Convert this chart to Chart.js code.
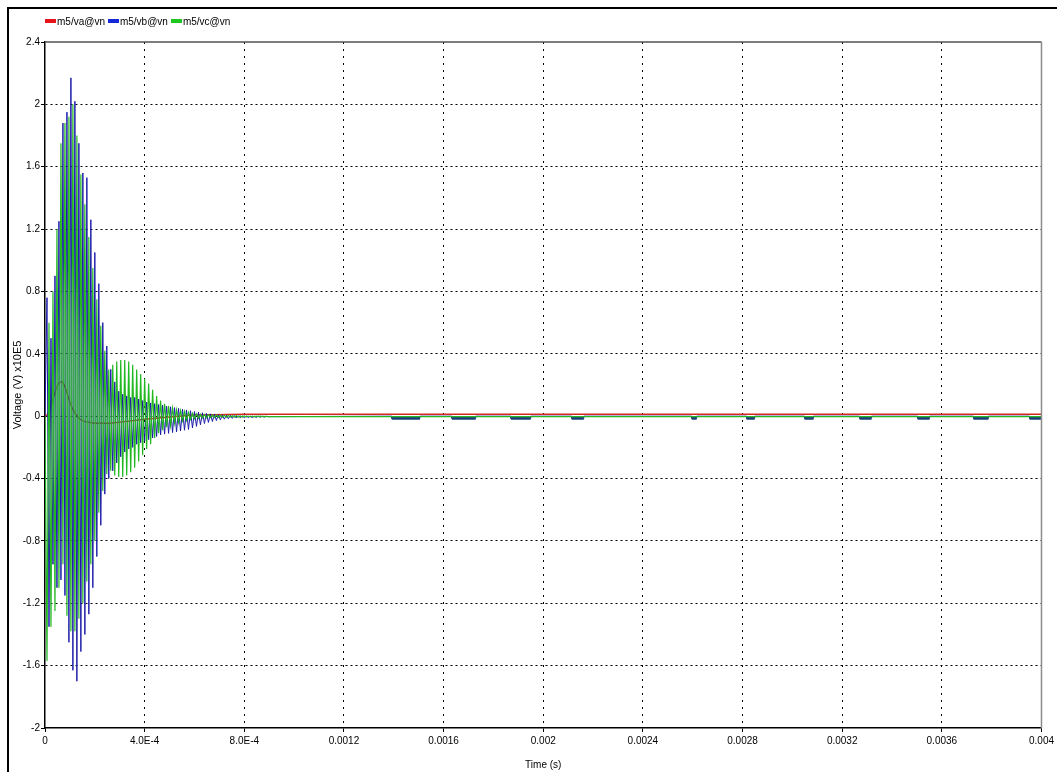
<!DOCTYPE html>
<html>
<head>
<meta charset="utf-8">
<script src="https://cdn.jsdelivr.net/npm/chart.js@4/dist/chart.umd.min.js"></script>
<style>
    body { margin: 0; background: #fff; }
    #wrap { position: relative; width: 1057px; height: 772px; }
    #legend {
        position: absolute; left: 45px; top: 16px;
        font: 10px 'Liberation Sans Narrow', 'Liberation Sans', Arial, sans-serif;
        color: #000; white-space: nowrap;
    }
    #legend span { margin-right: 3px; }
    #legend i { display: inline-block; width: 11px; height: 4px; margin-right: 1px; vertical-align: 2px; }
</style>
</head>
<body>
<div id="wrap">
    <canvas id="chart"></canvas>
    <div id="legend"></div>
</div>
<script>
const FONT = "'Liberation Sans Narrow', 'Liberation Sans', Arial, sans-serif";

const seriesNames = ['m5/va@vn', 'm5/vb@vn', 'm5/vc@vn'];
const lineColors = ['#d42a1e', '#1a1aa8', '#22b822'];
const keyColors = ['#e8141c', '#1428d8', '#1ec81e'];

const xTickValues = [0, 0.0004, 0.0008, 0.0012, 0.0016, 0.002, 0.0024, 0.0028, 0.0032, 0.0036, 0.004];
const xTickLabels = ['0', '4.0E-4', '8.0E-4', '0.0012', '0.0016', '0.002', '0.0024', '0.0028', '0.0032', '0.0036', '0.004'];
const yTickValues = [-2, -1.6, -1.2, -0.8, -0.4, 0, 0.4, 0.8, 1.2, 1.6, 2, 2.4];
const yTickLabels = ['-2', '-1.6', '-1.2', '-0.8', '-0.4', '0', '0.4', '0.8', '1.2', '1.6', '2', '2.4'];

// burst samples, one every 8 us (peak / trough pairs), x10E5 V
const burstStep = 8e-6;
const vbBurst = [
    0, 0.76, -1.35, 0.5, -0.95, 0.9, -1.1, 1.25, -1.05, 1.88,
    -1.15, 1.95, -1.45, 2.17, -1.63, 2.02, -1.7, 1.75, -1.51, 1.56,
    -1.4, 1.53, -1.27, 1.26, -1.1, 1.05, -0.9, 0.85, -0.7, 0.6,
    -0.5, 0.45, -0.4, 0.3, -0.35, 0.22, -0.3, 0.16, -0.26, 0.14,
    -0.23, 0.13, -0.21, 0.12, -0.2, 0.12, -0.18, 0.11, -0.17, 0.1,
    -0.16, 0.09, -0.15, 0.085, -0.14, 0.08, -0.13, 0.075, -0.12, 0.07,
    -0.115, 0.065, -0.11, 0.06, -0.105, 0.055, -0.1, 0.05, -0.095, 0.045,
    -0.09, 0.04, -0.085, 0.035, -0.075, 0.03, -0.065, 0.026, -0.055, 0.022,
    -0.047, 0.018, -0.04, 0.015, -0.034, 0.012, -0.028, 0.01, -0.023, 0.008,
    -0.019, 0.006, -0.016, 0.005, -0.014, 0.004, -0.012, 0.003, -0.011, 0.002,
    -0.01, 0.001, -0.009, 0, -0.009, 0, -0.008, 0, -0.007, 0,
    -0.006, 0, -0.003
];
const vcBurst = [
    0, -1.57, 0.6, -1.35, 0.8, -1.25, 1.2, -1.1, 1.75, -0.95,
    1.88, -1.28, 1.92, -1.38, 2.0, -1.38, 1.8, -1.3, 1.55, -1.2,
    1.36, -1.06, 1.15, -0.95, 0.95, -0.8, 0.75, -0.62, 0.58, -0.48,
    0.42, -0.37, 0.3, -0.35, 0.33, -0.38, 0.35, -0.39, 0.36, -0.39,
    0.36, -0.38, 0.35, -0.36, 0.33, -0.33, 0.3, -0.29, 0.27, -0.25,
    0.24, -0.21, 0.21, -0.18, 0.17, -0.14, 0.13, -0.11, 0.1, -0.09,
    0.08, -0.07, 0.065, -0.06, 0.05, -0.045, 0.04, -0.04, 0.035, -0.03,
    0.03, -0.026, 0.024, -0.02, 0.018, -0.016, 0.015, -0.013, 0.012, -0.011,
    0.01, -0.01, 0.009, -0.009, 0.008, -0.008, 0.007, -0.007, 0.006, -0.007,
    0.005, -0.006, 0.004, -0.006, 0.003, -0.005, 0.003, -0.005, 0.002, -0.005,
    0.002, -0.004, 0.001, -0.004, 0.001, -0.004, 0, -0.003, 0, -0.003,
    -0.001, -0.003, -0.003
];
const vaTimes = [0, 1e-5, 2e-5, 3e-5, 4e-5, 5e-5, 6e-5, 7e-5, 8e-5, 9e-5, 1e-4, 1.1e-4, 1.2e-4,
    1.4e-4, 1.6e-4, 2e-4, 2.6e-4, 3.2e-4, 4e-4, 5e-4, 6e-4, 8e-4, 0.004];
const vaValues = [0, 0.01, 0.04, 0.1, 0.15, 0.2, 0.22, 0.22, 0.19, 0.14, 0.09, 0.05, 0.02,
    -0.02, -0.035, -0.045, -0.045, -0.035, -0.02, -0.005, 0.008, 0.012, 0.012];

// settled values and the small blue steps along the zero line
const vcSettle = -0.003;
const vbSettle = 0;
const vbDashLevel = -0.014;
const vbDashStart = [0.001392, 0.001633, 0.00187, 0.002114, 0.002596, 0.002816, 0.003049, 0.00327, 0.003503, 0.003727, 0.003952];
const vbDashEnd = [0.001505, 0.001729, 0.00195, 0.002163, 0.002616, 0.002849, 0.003085, 0.003318, 0.003551, 0.003787, 0.004];

const burstPoints = vals => vals.map((v, k) => ({ x: k * burstStep, y: v }));

const vaPoints = vaTimes.map((t, i) => ({ x: t, y: vaValues[i] }));
const vbPoints = burstPoints(vbBurst)
    .concat(vbDashStart.flatMap((s, i) => [
        { x: s, y: vbSettle }, { x: s, y: vbDashLevel },
        { x: vbDashEnd[i], y: vbDashLevel }, { x: vbDashEnd[i], y: vbSettle }
    ]));
const vcPoints = burstPoints(vcBurst).concat([{ x: 0.004, y: vcSettle }]);

// legend
const $legend = document.querySelector('#legend');
seriesNames.forEach((name, i) => {
    const $span = document.createElement('span');
    const $key = document.createElement('i');
    $key.style.background = keyColors[i];
    $span.append($key, name);
    $legend.append($span);
});

const plotFrame = {
    id: 'plotFrame',
    afterDraw(chart) {
        const { ctx, chartArea: a } = chart;
        ctx.save();
        ctx.lineWidth = 1.5;
        ctx.strokeStyle = '#505050';
        ctx.beginPath(); ctx.moveTo(a.left, a.top); ctx.lineTo(a.right, a.top); ctx.stroke();
        ctx.strokeStyle = '#8c8c8c';
        ctx.beginPath(); ctx.moveTo(a.right, a.top); ctx.lineTo(a.right, a.bottom); ctx.stroke();
        ctx.strokeStyle = '#000';
        ctx.lineWidth = 2;
        ctx.beginPath(); ctx.moveTo(8, chart.height); ctx.lineTo(8, 8); ctx.lineTo(chart.width, 8); ctx.stroke();
        ctx.restore();
    }
};

const edgeless = list => c => (c.index === 0 || c.index === list.length - 1) ? 'rgba(0,0,0,0)' : '#000';
const onDash = c => c.p0.parsed.y === vbDashLevel && c.p1.parsed.y === vbDashLevel;

new Chart(document.querySelector('#chart'), {
    type: 'line',
    data: {
        datasets: [
            { label: seriesNames[0], data: vaPoints, borderColor: lineColors[0], borderWidth: 1.4, order: 3 },
            {
                label: seriesNames[1], data: vbPoints, borderColor: lineColors[1], borderWidth: 1, order: 2,
                segment: { borderWidth: c => onDash(c) ? 3 : undefined, borderColor: c => onDash(c) ? '#1c3f7a' : undefined }
            },
            { label: seriesNames[2], data: vcPoints, borderColor: lineColors[2], borderWidth: 1.2, order: 1 }
        ]
    },
    options: {
        responsive: true,
        maintainAspectRatio: false,
        animation: false,
        parsing: false,
        normalized: true,
        elements: { point: { radius: 0 }, line: { tension: 0 } },
        layout: { padding: { left: 8, top: 42, right: 15, bottom: 0 } },
        plugins: { legend: { display: false }, tooltip: { enabled: false } },
        scales: {
            x: {
                type: 'linear',
                min: 0,
                max: 0.004,
                afterBuildTicks: s => { s.ticks = xTickValues.map(v => ({ value: v })); },
                afterFit: s => { s.height = 44; },
                ticks: {
                    autoSkip: false, maxRotation: 0, padding: 3, color: '#000',
                    font: { family: FONT, size: 10 },
                    callback: (v, i) => xTickLabels[i]
                },
                grid: { color: edgeless(xTickValues), lineWidth: 1, tickLength: 4, tickColor: '#000' },
                border: { color: '#000', width: 1.5, dash: [2, 5] },
                title: {
                    display: true, text: 'Time (s)', color: '#000',
                    font: { family: FONT, size: 10 }, padding: { top: 0, bottom: 1 }
                }
            },
            y: {
                min: -2,
                max: 2.4,
                afterBuildTicks: s => { s.ticks = yTickValues.map(v => ({ value: v })); },
                afterFit: s => { s.width = 37; },
                ticks: {
                    autoSkip: false, padding: 1, color: '#000',
                    font: { family: FONT, size: 10 },
                    callback: (v, i) => yTickLabels[i]
                },
                grid: { color: edgeless(yTickValues), lineWidth: 1, tickLength: 4, tickColor: '#000' },
                border: { color: '#000', width: 1.5, dash: [2, 3] },
                title: {
                    display: true, text: 'Voltage (V) x10E5', color: '#000',
                    font: { family: 'Liberation Sans, Arial, sans-serif', size: 11 }, padding: { top: 3, bottom: 0 }
                }
            }
        }
    },
    plugins: [plotFrame]
});
</script>
</body>
</html>
